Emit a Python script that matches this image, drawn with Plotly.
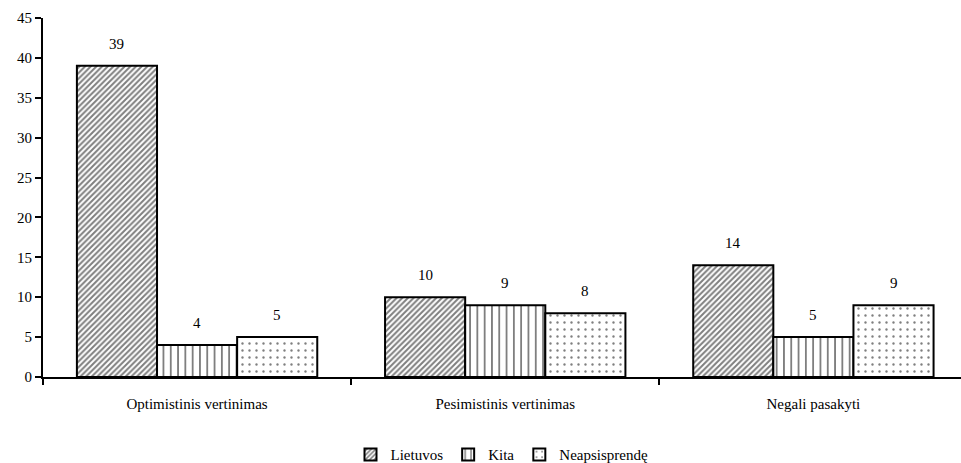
import plotly.graph_objects as go

# Categories and series values (percent)
categories = ["Optimistinis vertinimas", "Pesimistinis vertinimas", "Negali pasakyti"]
series_names = ["Lietuvos", "Kita", "Neapsisprendę"]
lietuvos = [39, 10, 14]
kita = [4, 9, 5]
neapsisprende = [5, 8, 9]
y_ticks = [0, 5, 10, 15, 20, 25, 30, 35, 40, 45]

series_values = [lietuvos, kita, neapsisprende]
patterns = [
    dict(shape="/", size=4, solidity=0.5, fgcolor="black", bgcolor="white"),
    dict(shape="|", size=7.3, solidity=0.25, fgcolor="black", bgcolor="white"),
    dict(shape=".", size=7, solidity=0.09, fgcolor="black", bgcolor="white"),
]

FONT = "Liberation Serif"

fig = go.Figure()
for name, vals, pat in zip(series_names, series_values, patterns):
    fig.add_trace(go.Bar(
        x=categories, y=vals, name=name,
        marker=dict(color="white", pattern=pat,
                    line=dict(color="black", width=2)),
    ))

# value labels above each bar
n = len(series_names)
for i, vals in enumerate(series_values):
    for j, v in enumerate(vals):
        offset = (i - (n - 1) / 2) * (1 - 0.22) / n
        fig.add_annotation(
            x=j + offset, y=v, xref="x", yref="y",
            text=str(v), showarrow=False, yanchor="bottom", yshift=12,
            font=dict(family=FONT, size=15, color="black"),
        )

fig.update_layout(
    width=961, height=463,
    margin=dict(l=43, r=0, t=18, b=86),
    paper_bgcolor="white", plot_bgcolor="white",
    barmode="group", bargap=0.22, bargroupgap=0,
    font=dict(family=FONT, size=15, color="black"),
    showlegend=True,
    legend=dict(orientation="h", x=0.5, xanchor="center",
                yref="container", y=0.018, yanchor="middle",
                font=dict(family=FONT, size=15, color="black"),
                itemwidth=30, tracegroupgap=0),
)
fig.update_xaxes(
    type="category", range=[-0.5, 2.479],
    showline=True, linecolor="black", linewidth=2,
    ticks="outside", tickson="boundaries", ticklen=6, tickwidth=2,
    tickcolor="black", ticklabelstandoff=12, showgrid=False,
)
fig.update_yaxes(
    range=[0, 45], tickvals=y_ticks,
    showline=True, linecolor="black", linewidth=2,
    ticks="outside", ticklen=6, tickwidth=2, tickcolor="black",
    showgrid=False, zeroline=False,
)

fig.write_html("out.html")
